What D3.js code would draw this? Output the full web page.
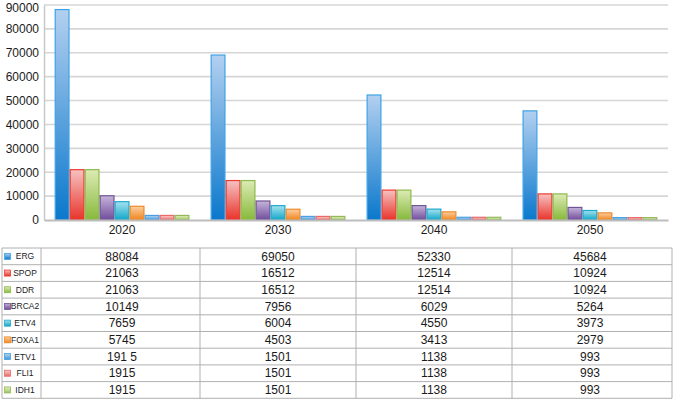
<!DOCTYPE html>
<html>
<head>
<meta charset="utf-8">
<script src="https://cdn.jsdelivr.net/npm/d3@7"></script>
<style>
  body { margin: 0; background: #fff; }
  text { font-family: "Liberation Sans", Arial, sans-serif; }
</style>
</head>
<body>
<div id="chart"></div>
<script>
const categories = ["2020", "2030", "2040", "2050"];
const seriesNames = ["ERG", "SPOP", "DDR", "BRCA2", "ETV4", "FOXA1", "ETV1", "FLI1", "IDH1"];
const ERG = [88084, 69050, 52330, 45684];
const SPOP = [21063, 16512, 12514, 10924];
const DDR = [21063, 16512, 12514, 10924];
const BRCA2 = [10149, 7956, 6029, 5264];
const ETV4 = [7659, 6004, 4550, 3973];
const FOXA1 = [5745, 4503, 3413, 2979];
const ETV1 = [1915, 1501, 1138, 993];
const FLI1 = [1915, 1501, 1138, 993];
const IDH1 = [1915, 1501, 1138, 993];
const yTicks = [0, 10000, 20000, 30000, 40000, 50000, 60000, 70000, 80000, 90000];
// the source table prints this one cell with a stray space
const cellText = { "ETV1|2020": "191 5" };

const seriesValues = [ERG, SPOP, DDR, BRCA2, ETV4, FOXA1, ETV1, FLI1, IDH1];
const palette = [
  { light: "#b3d0f0", dark: "#0a78cc", stroke: "#3ea2e6" },
  { light: "#f6c2c2", dark: "#e8332a", stroke: "#ee3b2e" },
  { light: "#dcebb4", dark: "#86b93a", stroke: "#8fb84e" },
  { light: "#c6b4da", dark: "#6f4c9a", stroke: "#6e5696" },
  { light: "#a6e2f0", dark: "#10a6c8", stroke: "#1ea9cc" },
  { light: "#fbcfa2", dark: "#f0841c", stroke: "#ec8a2a" },
  { light: "#b8d6f2", dark: "#3d95dc", stroke: "#4aa0e0" },
  { light: "#f8d0d0", dark: "#ea6a66", stroke: "#e86a6a" },
  { light: "#e2efc4", dark: "#9cc45a", stroke: "#94b85a" }
];

const width = 675, height = 400;
const margin = { top: 5, left: 44, right: 7 };
const plotBottom = 220;

const svg = d3.select("#chart").append("svg")
  .attr("width", width)
  .attr("height", height);

const defs = svg.append("defs");
palette.forEach((p, i) => {
  const g = defs.append("linearGradient")
    .attr("id", "grad" + i)
    .attr("x1", 0).attr("y1", 0).attr("x2", 0).attr("y2", 1);
  g.append("stop").attr("offset", "0%").attr("stop-color", p.light);
  g.append("stop").attr("offset", "100%").attr("stop-color", p.dark);
});

const x = d3.scaleBand()
  .domain(categories)
  .range([margin.left, width - margin.right])
  .paddingInner(0.135)
  .paddingOuter(0.068);

const x0 = d3.scaleBand()
  .domain(categories)
  .range([margin.left, width - margin.right]);

const xs = d3.scaleBand()
  .domain(seriesNames)
  .range([0, x.bandwidth()]);

const y = d3.scaleLinear()
  .domain([0, 90000])
  .range([plotBottom, margin.top]);

// gridlines
svg.append("g")
  .selectAll("line")
  .data(yTicks.slice(1))
  .join("line")
  .attr("x1", margin.left)
  .attr("x2", width - margin.right)
  .attr("y1", d => y(d))
  .attr("y2", d => y(d))
  .attr("stroke", "#d6d6d6")
  .attr("stroke-width", 1.6);

// y axis
const yAxis = svg.append("g")
  .attr("transform", `translate(${margin.left},0)`)
  .call(d3.axisLeft(y).tickValues(yTicks).tickFormat(d3.format("d")).tickSize(0).tickPadding(5));
yAxis.select(".domain").attr("stroke", "#c8c8c8").attr("stroke-width", 1.5);
yAxis.selectAll("text").attr("font-size", 12).attr("fill", "#1a1a1a");
// keep the top label inside the page
yAxis.selectAll("text").filter(d => d === 90000).attr("dy", "0.5em");

// bars
const groups = svg.append("g")
  .selectAll("g")
  .data(categories)
  .join("g")
  .attr("transform", d => `translate(${x(d)},0)`);

groups.selectAll("rect")
  .data((c, ci) => seriesNames.map((s, si) => ({ s, si, v: seriesValues[si][ci] })))
  .join("rect")
  .attr("x", d => xs(d.s) + 0.6)
  .attr("width", xs.bandwidth() - 1.2)
  .attr("y", d => y(d.v))
  .attr("height", d => plotBottom - y(d.v))
  .attr("fill", d => `url(#grad${d.si})`)
  .attr("stroke", d => palette[d.si].stroke)
  .attr("stroke-width", 1.2);

// x axis
const xAxis = svg.append("g")
  .attr("transform", `translate(0,${plotBottom})`)
  .call(d3.axisBottom(x0).tickSize(0).tickPadding(5));
xAxis.select(".domain").attr("stroke", "#bdbdbd").attr("stroke-width", 2);
xAxis.selectAll("text").attr("font-size", 12).attr("fill", "#1a1a1a");

// data table
const tableTop = 248, rowH = 16.7, labelLeft = 2, labelRight = 41;
const rows = d3.scaleBand()
  .domain(seriesNames)
  .range([tableTop, tableTop + rowH * seriesNames.length]);
const colEdges = [labelLeft, labelRight].concat(categories.slice(1).map(c => x0(c)), [672]);

const table = svg.append("g");
table.selectAll("line.h")
  .data(d3.range(seriesNames.length + 1))
  .join("line")
  .attr("x1", labelLeft).attr("x2", 672)
  .attr("y1", i => tableTop + i * rowH)
  .attr("y2", i => tableTop + i * rowH)
  .attr("stroke", "#b0b0b0").attr("stroke-width", 1);
table.selectAll("line.v")
  .data(colEdges)
  .join("line")
  .attr("x1", d => d).attr("x2", d => d)
  .attr("y1", tableTop).attr("y2", tableTop + rowH * seriesNames.length)
  .attr("stroke", "#b0b0b0").attr("stroke-width", 1);

const rowG = table.selectAll("g.row")
  .data(seriesNames)
  .join("g")
  .attr("transform", s => `translate(0,${rows(s) + rows.bandwidth() / 2})`);

rowG.append("rect")
  .attr("x", 4.5).attr("y", -3)
  .attr("width", 6).attr("height", 6)
  .attr("fill", (s, i) => `url(#grad${i})`)
  .attr("stroke", (s, i) => palette[i].stroke)
  .attr("stroke-width", 0.8);

rowG.append("text")
  .attr("x", 25)
  .attr("dy", "0.35em")
  .attr("text-anchor", "middle")
  .attr("font-size", 8.5)
  .attr("fill", "#222")
  .text(s => s);

rowG.selectAll("text.val")
  .data((s, si) => categories.map((c, ci) => ({ s, c, v: seriesValues[si][ci] })))
  .join("text")
  .attr("class", "val")
  .attr("x", d => x0(d.c) + x0.bandwidth() / 2)
  .attr("dy", "0.35em")
  .attr("text-anchor", "middle")
  .attr("font-size", 12)
  .attr("fill", "#1a1a1a")
  .text(d => cellText[d.s + "|" + d.c] || String(d.v));
</script>
</body>
</html>
